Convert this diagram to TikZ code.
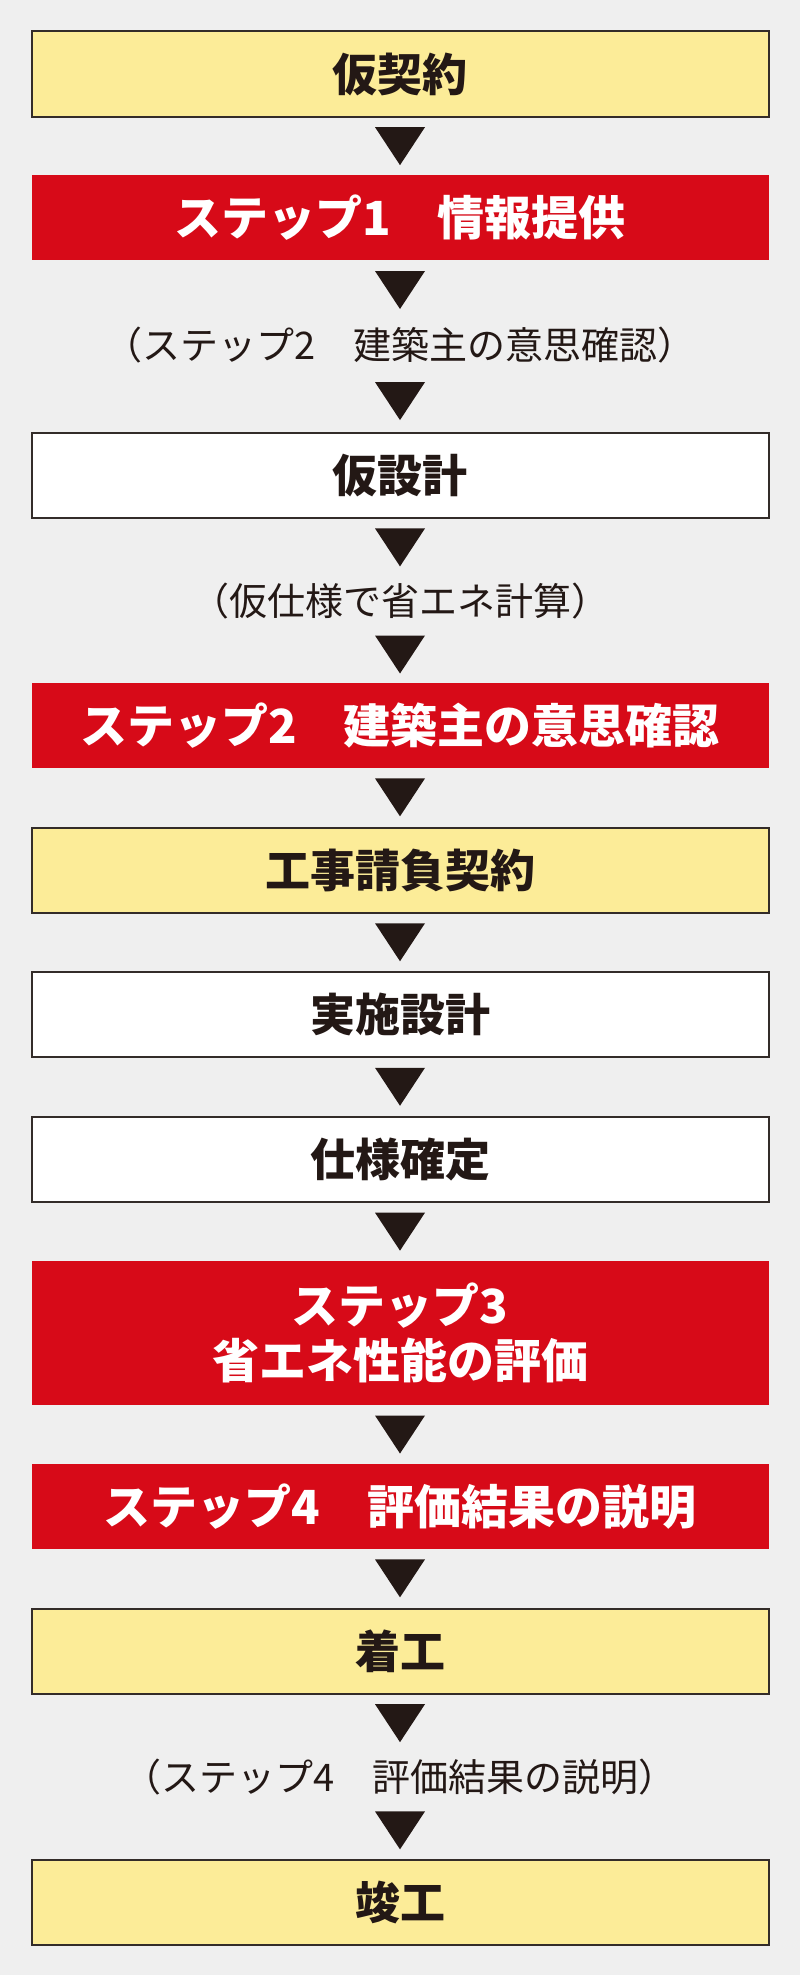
\documentclass[tikz,border=0pt]{standalone}
\usepackage{fontspec}
\newfontfamily\jpfont{Noto Sans CJK JP}
\usetikzlibrary{calc}
\definecolor{bg}{HTML}{EFEFEF}
\definecolor{cream}{HTML}{FCEC98}
\definecolor{stepred}{HTML}{D70A18}
\definecolor{ink}{HTML}{231815}
\definecolor{rule}{HTML}{332C29}
\tikzset{
  box/.style= {minimum width=737, minimum height=85, inner sep=0, text=ink,
    font=\jpfont\bfseries\fontsize{45}{55}\selectfont},
  plain/.style= {box, draw=rule, line width=2, fill=white},
  contract/.style= {box, draw=rule, line width=2, fill=cream},
  stepbox/.style= {box, fill=stepred, text=white, align=center,
    font=\jpfont\bfseries\fontsize{47}{55}\selectfont},
  note/.style= {minimum height=50, inner sep=0, text=ink,
    font=\jpfont\fontsize{38}{46}\selectfont},
  tip/.style= {fill=ink},
}

\begin{document}
\begin{tikzpicture}[x=1pt, y=1pt]
  \fill [bg] (0,0) rectangle (800,-1975) ;
  \useasboundingbox (0,0) rectangle (800,-1975) ;

  \node [contract] (a) at (400,-74) {仮契約} ;
  \node [stepbox] (b) at (400,-217.5) {ステップ1　情報提供} ;
  \node [note] (c) at (400,-345) {（ステップ2　建築主の意思確認）} ;
  \node [plain] (d) at (400,-475.5) {仮設計} ;
  \node [note] (e) at (400,-601) {（仮仕様で省エネ計算）} ;
  \node [stepbox] (f) at (400,-725.5) {ステップ2　建築主の意思確認} ;
  \node [contract] (g) at (400,-870) {工事請負契約} ;
  \node [plain] (h) at (400,-1014.5) {実施設計} ;
  \node [plain] (i) at (400,-1159) {仕様確定} ;
  \node [stepbox, minimum height=144] (j) at (400,-1333) {ステップ3\\省エネ性能の評価} ;
  \node [stepbox] (k) at (400,-1506.5) {ステップ4　評価結果の説明} ;
  \node [contract] (l) at (400,-1651) {着工} ;
  \node [note] (m) at (400,-1777) {（ステップ4　評価結果の説明）} ;
  \node [contract] (n) at (400,-1902) {竣工} ;

  \foreach \u/\v in {a/b, b/c, c/d, d/e, e/f, f/g, g/h, h/i, i/j, j/k, k/l, l/m, m/n}
    \fill [tip] ($(\u.south)!0.5!(\v.north)$) ++(-25,19) -- ++(50,0) -- ++(-25,-38) -- cycle ;
\end{tikzpicture}
\end{document}
